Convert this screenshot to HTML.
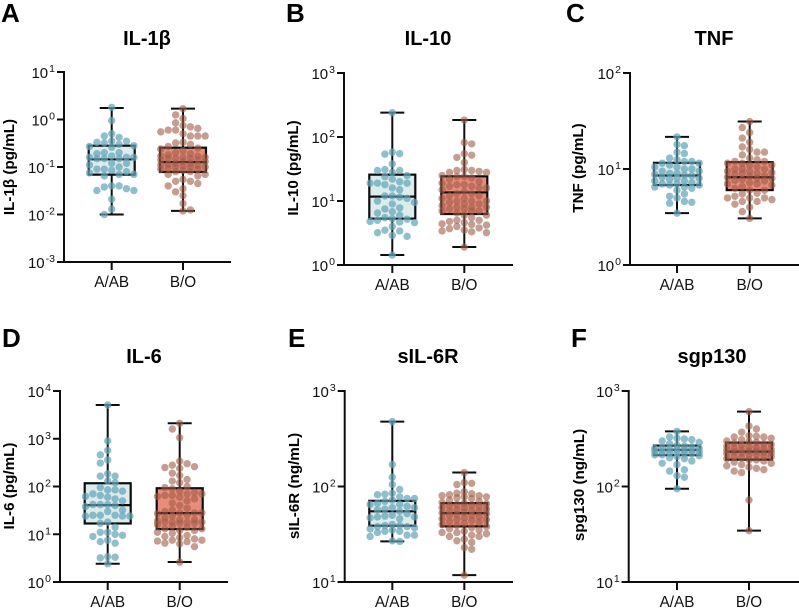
<!DOCTYPE html>
<html lang="en">
<head>
<meta charset="utf-8">
<title>Cytokine levels by blood group</title>
<style>
html,body{margin:0;padding:0;background:#fff;}
svg{display:block;font-family:"Liberation Sans",sans-serif;}
.letter{font-size:26px;font-weight:bold;fill:#000;}
.title{font-size:20px;font-weight:bold;fill:#000;text-anchor:middle;}
.ytitle{font-size:15.2px;font-weight:bold;fill:#000;text-anchor:middle;}
.tick{font-size:15px;fill:#111;}
.cat{font-size:15.3px;fill:#111;text-anchor:middle;}
</style>
</head>
<body>
<svg id="figure" xmlns="http://www.w3.org/2000/svg" width="799" height="609" viewBox="0 0 799 609">
  <rect width="799" height="609" fill="#fff"/>

  <g>
    <text class="letter" x="1" y="22">A</text>
    <text class="title" x="147" y="45">IL-1β</text>
    <text class="ytitle" transform="translate(14,167) rotate(-90)">IL-1β (pg/mL)</text>
    <g id="plot-a"></g>
  </g>
  <g>
    <text class="letter" x="286" y="22">B</text>
    <text class="title" x="428" y="45">IL-10</text>
    <text class="ytitle" transform="translate(298,168) rotate(-90)">IL-10 (pg/mL)</text>
    <g id="plot-b"></g>
  </g>
  <g>
    <text class="letter" x="566" y="22">C</text>
    <text class="title" x="714" y="45">TNF</text>
    <text class="ytitle" transform="translate(583,168) rotate(-90)">TNF (pg/mL)</text>
    <g id="plot-c"></g>
  </g>
  <g>
    <text class="letter" x="2" y="347">D</text>
    <text class="title" x="144" y="363">IL-6</text>
    <text class="ytitle" transform="translate(14,486) rotate(-90)">IL-6 (pg/mL)</text>
    <g id="plot-d"></g>
  </g>
  <g>
    <text class="letter" x="288" y="347">E</text>
    <text class="title" x="428" y="363">sIL-6R</text>
    <text class="ytitle" transform="translate(299,486) rotate(-90)">sIL-6R (ng/mL)</text>
    <g id="plot-e"></g>
  </g>
  <g>
    <text class="letter" x="571" y="347">F</text>
    <text class="title" x="712" y="363">sgp130</text>
    <text class="ytitle" transform="translate(584,485) rotate(-90)">spg130 (ng/mL)</text>
    <g id="plot-f"></g>
  </g>
</svg>

<script>
const categories = ['A/AB', 'B/O'];

// Tick exponents (log10) per panel, top to bottom
const ticksA = [1, 0, -1, -2, -3];
const ticksB = [3, 2, 1, 0];
const ticksC = [2, 1, 0];
const ticksD = [4, 3, 2, 1, 0];
const ticksE = [3, 2, 1];
const ticksF = [3, 2, 1];

// Box statistics: min, q1, median, q3, max
const statsA1 = [0.01, 0.069, 0.145, 0.281, 1.75];
const statsA2 = [0.0119, 0.0785, 0.127, 0.255, 1.69];
const statsB1 = [1.43, 5.3, 11.7, 25.8, 240];
const statsB2 = [1.91, 6.26, 13.6, 24.3, 184];
const statsC1 = [3.47, 6.8, 8.55, 11.6, 21.6];
const statsC2 = [3.06, 6.03, 8.2, 11.8, 31.2];
const statsD1 = [2.41, 16.8, 40.7, 117, 5090];
const statsD2 = [2.62, 12.8, 27.7, 92, 2110];
const statsE1 = [26.6, 38.8, 55, 70.8, 478];
const statsE2 = [11.8, 38.2, 52.6, 67, 140];
const statsF1 = [94.6, 213, 242, 268, 378];
const statsF2 = [34.5, 191, 232, 288, 608];

// Individual measurements
const valuesA1 = [1.8,0.95,0.5,0.45,0.42,0.35,0.35,0.33,0.32,0.3,0.28,0.27,0.26,0.2,0.2,0.19,0.17,0.16,0.16,0.16,0.15,0.15,0.15,0.12,0.12,0.11,0.1,0.09,0.09,0.085,0.08,0.075,0.07,0.07,0.065,0.04,0.04,0.038,0.035,0.032,0.032,0.021,0.013,0.01];
const valuesA2 = [1.69,1.25,1.05,0.85,0.75,0.7,0.65,0.6,0.6,0.55,0.5,0.45,0.45,0.45,0.33,0.32,0.3,0.27,0.25,0.24,0.22,0.2,0.19,0.18,0.17,0.17,0.16,0.16,0.15,0.15,0.15,0.14,0.14,0.13,0.13,0.12,0.12,0.115,0.11,0.11,0.105,0.1,0.1,0.1,0.095,0.09,0.09,0.085,0.08,0.08,0.07,0.07,0.065,0.055,0.05,0.05,0.045,0.04,0.035,0.03,0.025,0.017,0.0125,0.0119];
const valuesB1 = [240,58,55,54,38,31,30,30,28,25,24,22,20,19,19,19,18,16,15,12,12,11.5,11,10,9.5,9,7.8,7.5,6.8,6.5,6,5.5,5.3,5.2,5,4.8,4.7,4.6,4,3.5,3.4,3.2,2.9,2.8,1.43];
const valuesB2 = [184,82,78,55,52,48,40,31,30,30,29,28,28,25,24,24,23,22,20,19,18,18,17,17,16,16,15,14,13,13,12,12,11,11,10,10,10,9.5,9,9,8.5,8,8,8,7.5,7.5,7,7,7,6.5,6,6,5.5,5,5,4.8,4.6,4.4,4.3,4.2,4,3.8,3.7,3.5,3.4,3.3,3.2,1.91];
const valuesC1 = [21.6,18,17.5,15,14.5,13,12.5,12,12,11.5,11.5,11,10.5,10.5,10,10,9.5,9.5,9,9,8.8,8.6,8.5,8.2,8,8,7.8,7.5,7.5,7.2,7,7,6.8,6.8,6.5,6.5,6.3,6,5.5,5.2,5,4.6,4.5,4.4,3.47];
const valuesC2 = [31.2,27,24,21,19,17,16,15,15,14,13,12.5,12,12,11.5,11.5,11,11,10.5,10,10,10,9.5,9.5,9.2,9,9,8.8,8.5,8.4,8.2,8,8,7.8,7.6,7.5,7.2,7,7,6.8,6.6,6.3,6,6,5.6,5.5,5.2,5,5,5,4.8,4.6,4.6,4.3,4,3.6,3.06];
const valuesD1 = [5090,900,570,460,360,310,185,165,165,130,120,95,85,85,80,70,65,62,60,55,50,42,42,42,40,38,32,30,25,25,25,24,24,24,18,17,14,11,11,10,9.5,9,7.5,7,6.5,3.4,3.3,3.2,2.41];
const valuesD2 = [2110,1600,1050,340,300,280,260,250,240,190,170,140,130,120,100,95,90,80,75,70,70,65,65,62,60,55,50,45,40,35,32,30,28,28,28,27,25,24,22,20,20,19,18,18,18,18,17,17,16,15,14,13,13,12,12,11,10.5,9.5,9,8.5,8,7.5,7.5,7.2,7,6.5,6.3,5.5,2.62];
const valuesE1 = [478,170,125,105,93,85,83,82,78,75,75,72,70,67,65,65,62,60,60,58,57,55,52,50,49,48,48,47,46,40,39,39,38,38,37,36,35,34,34,33,31,31,30,27,26.6];
const valuesE2 = [140,110,108,105,88,85,84,82,80,80,78,78,76,75,72,70,68,67,66,65,64,63,62,60,60,58,57,56,55,55,54,53,52,51,50,50,48,47,46,45,45,44,43,42,41,40,39,38,37,36,35,34,33,33,32,31,30,30,28,27,26,23,22,11.8];
const valuesF1 = [378,330,320,315,310,300,290,280,270,265,260,255,250,250,245,245,240,240,235,235,230,225,225,220,220,215,215,210,205,200,195,185,175,170,150,145,130,125,94.6];
const valuesF2 = [608,430,400,370,340,335,330,330,320,310,300,295,290,285,280,275,270,265,260,255,250,250,245,240,240,235,235,230,230,225,225,220,215,215,210,205,205,200,195,190,190,185,180,175,170,165,160,155,150,145,140,72,34.5];

const SVG_NS = 'http://www.w3.org/2000/svg';
const groupStyles = [
  { fill: '#dcebeb', dot: 'rgba(100,165,185,0.72)' },
  { fill: '#e88c7c', dot: 'rgba(160,92,72,0.6)' }
];

function shape(parent, tag, attrs) {
  const el = document.createElementNS(SVG_NS, tag);
  for (const key in attrs) el.setAttribute(key, attrs[key]);
  parent.appendChild(el);
  return el;
}

function swarmOffsets(ys) {
  // Beeswarm: each point takes the closest free slot to the category centre
  const placed = [];
  const step = 7.4, minDist = 6.6, maxSlots = 3;
  const order = ys.map((y, i) => i).sort((a, b) => ys[a] - ys[b]);
  const offsets = new Array(ys.length);
  let side = 1;
  order.forEach(i => {
    let best = 0, bestClash = Infinity;
    for (let k = 0; k <= maxSlots; k++) {
      const opts = k === 0 ? [0] : [side * k * step, -side * k * step];
      for (const off of opts) {
        let clash = 0;
        for (const p of placed) {
          const d = Math.hypot(p.x - off, p.y - ys[i]);
          if (d < minDist) clash += (minDist - d);
        }
        if (clash < bestClash - 0.001) { bestClash = clash; best = off; }
      }
      if (bestClash === 0) break;
    }
    side = -side;
    offsets[i] = best;
    placed.push({ x: best, y: ys[i] });
  });
  return offsets;
}

function drawPanel(p) {
  const root = document.getElementById(p.id);
  const maxExp = p.ticks[0];
  const minExp = p.ticks[p.ticks.length - 1];
  const yScale = v => p.top + (maxExp - Math.log10(v)) / (maxExp - minExp) * (p.bottom - p.top);
  const xScale = i => p.centers[i];
  const ink = '#0d0d0d';

  const boxLayer = shape(root, 'g', {});
  
  

  p.stats.forEach((s, i) => {
    const cx = xScale(i);
    const halfBox = 23, halfCap = 12;
    const whisker = shape(boxLayer, 'line', { x1: cx, x2: cx, y1: yScale(s[0]), y2: yScale(s[4]), stroke: ink, 'stroke-width': 2 });
    
    
    const capLow = shape(boxLayer, 'line', { x1: cx - halfCap, x2: cx + halfCap, y1: yScale(s[0]), y2: yScale(s[0]), stroke: ink, 'stroke-width': 2 });
    
    
    const capHigh = shape(boxLayer, 'line', { x1: cx - halfCap, x2: cx + halfCap, y1: yScale(s[4]), y2: yScale(s[4]), stroke: ink, 'stroke-width': 2 });
    
    
    const box = shape(boxLayer, 'rect', { x: cx - halfBox, width: halfBox * 2, y: yScale(s[3]), height: yScale(s[1]) - yScale(s[3]), fill: groupStyles[i].fill, stroke: ink, 'stroke-width': 2.2 });
    
    
    const median = shape(boxLayer, 'line', { x1: cx - halfBox, x2: cx + halfBox, y1: yScale(s[2]), y2: yScale(s[2]), stroke: ink, 'stroke-width': 2.2 });
    
    
  });

  p.values.forEach((series, i) => {
    const ys = series.map(yScale);
    const offs = swarmOffsets(ys);
    const dots = shape(root, 'g', { fill: groupStyles[i].dot });
    
    
    series.forEach((v, j) => {
      const dot = shape(dots, 'circle', { cx: xScale(i) + offs[j], cy: ys[j], r: 3.7 });
      
      
    });
  });

  const axisLayer = shape(root, 'g', { stroke: ink, 'stroke-width': 2, fill: 'none' });
  
  
  const yAxis = shape(axisLayer, 'line', { x1: p.left, x2: p.left, y1: p.top - 1, y2: p.bottom + 1 });
  
  
  const xAxis = shape(axisLayer, 'line', { x1: p.left - 7, x2: p.right, y1: p.bottom, y2: p.bottom });
  
  

  p.ticks.forEach(exp => {
    const y = yScale(Math.pow(10, exp));
    const mark = shape(axisLayer, 'line', { x1: p.left - 7, x2: p.left, y1: y, y2: y });
    
    
    const label = shape(root, 'text', { class: 'tick', x: p.left - 9, y: y + 6, 'text-anchor': 'end' });
    
    
    const base = shape(label, 'tspan', {});
    base.textContent = '10';
    const sup = shape(label, 'tspan', { dy: -6, dx: 1, 'font-size': 10.5 });
    sup.textContent = String(exp);
  });

  categories.forEach((name, i) => {
    const cx = xScale(i);
    const mark = shape(axisLayer, 'line', { x1: cx, x2: cx, y1: p.bottom, y2: p.bottom + 8 });
    
    
    const label = shape(root, 'text', { class: 'cat', x: cx, y: p.bottom + 25 });
    
    
    label.textContent = name;
  });
}

drawPanel({ id: 'plot-a', left: 64, right: 231, top: 72, bottom: 262, centers: [111.7, 183], ticks: ticksA, stats: [statsA1, statsA2], values: [valuesA1, valuesA2] });
drawPanel({ id: 'plot-b', left: 344, right: 513, top: 73, bottom: 265, centers: [392.3, 464.3], ticks: ticksB, stats: [statsB1, statsB2], values: [valuesB1, valuesB2] });
drawPanel({ id: 'plot-c', left: 630, right: 799, top: 73, bottom: 265, centers: [677, 749.7], ticks: ticksC, stats: [statsC1, statsC2], values: [valuesC1, valuesC2] });
drawPanel({ id: 'plot-d', left: 60, right: 228, top: 391, bottom: 582, centers: [107.7, 179.7], ticks: ticksD, stats: [statsD1, statsD2], values: [valuesD1, valuesD2] });
drawPanel({ id: 'plot-e', left: 344.7, right: 513, top: 391, bottom: 582, centers: [392.3, 464.3], ticks: ticksE, stats: [statsE1, statsE2], values: [valuesE1, valuesE2] });
drawPanel({ id: 'plot-f', left: 628.7, right: 799, top: 391, bottom: 582, centers: [677, 749], ticks: ticksF, stats: [statsF1, statsF2], values: [valuesF1, valuesF2] });
</script>
</body>
</html>
